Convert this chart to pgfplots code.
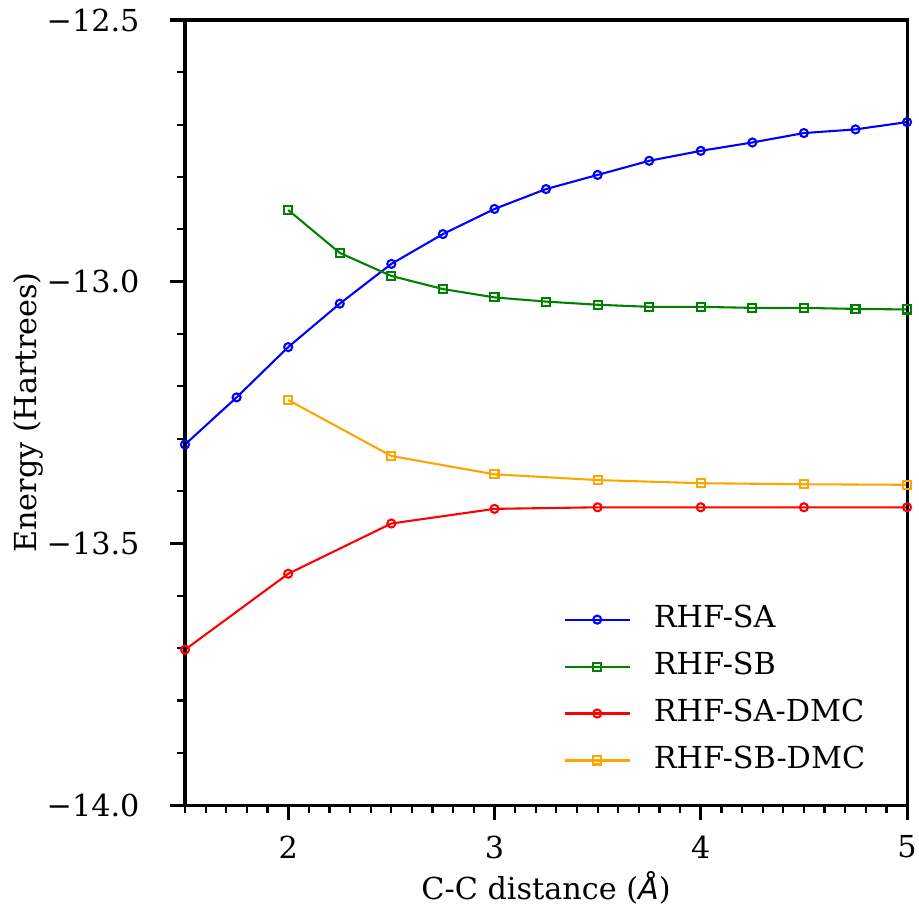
\documentclass[border=0pt]{standalone}
\usepackage{pgfplots}
\pgfplotsset{compat=1.18}
\usepackage{fontspec}
\setmainfont{DejaVu Serif}
\newfontfamily\dvsans{DejaVu Sans}
\definecolor{mplblue}{RGB}{0,0,255}
\definecolor{mplgreen}{RGB}{0,128,0}
\definecolor{mplred}{RGB}{255,0,0}
\definecolor{mplorange}{RGB}{255,165,0}
\begin{document}
\fontsize{10.9pt}{13pt}\selectfont
\begin{tikzpicture}
\begin{axis}[
  scale only axis,
  width=259.9pt, height=282.6pt,
  xmin=1.5, xmax=5, ymin=-14, ymax=-12.5,
  axis on top,
  axis line style={line width=1.1pt},
  tick pos=left,
  tick align=outside,
  major tick length=5.4pt,
  minor tick length=2.9pt,
  every major tick/.style={line width=1.1pt, black},
  every minor tick/.style={line width=0.8pt, black},
  xtick={2,3,4,5},
  xticklabels={2,3,4,5},
  minor xtick={1.5,1.6,1.7,1.8,1.9,2.1,2.2,2.3,2.4,2.5,2.6,2.7,2.8,2.9,3.1,3.2,3.3,3.4,3.5,3.6,3.7,3.8,3.9,4.1,4.2,4.3,4.4,4.5,4.6,4.7,4.8,4.9},
  ytick={-14,-13.5,-13,-12.5},
  yticklabels={−14.0,−13.5,−13.0,−12.5},
  minor ytick={-13.9,-13.8,-13.7,-13.6,-13.4,-13.3,-13.2,-13.1,-12.9,-12.8,-12.7,-12.6},
  xticklabel style={font=\fontsize{10.9pt}{13pt}\selectfont, anchor=north, inner sep=0pt, yshift=-5.4pt},
  yticklabel style={font=\fontsize{10.9pt}{13pt}\selectfont, anchor=east, inner sep=0pt, xshift=-10.8pt},
  xlabel={C-C distance ({\dvsans\itshape Å})},
  ylabel={Energy (Hartrees)},
  every axis x label/.style={at={(axis description cs:0.5,0)}, anchor=base, inner sep=0pt, yshift=-33.8pt, font=\fontsize{10.9pt}{13pt}\selectfont},
  every axis y label/.style={at={(axis description cs:-0.2051,0.5)}, rotate=90, anchor=base, inner sep=0pt, font=\fontsize{10.9pt}{13pt}\selectfont},
  legend cell align=left,
  legend style={draw=none, fill=none, inner sep=0pt, at={(axis description cs:0.5237,0.2550)}, anchor=north west,
    font=\fontsize{10.9pt}{13pt}\selectfont, row sep=6.7pt,
    nodes={inner sep=0pt, text height=8pt, text depth=2.2pt},
    /tikz/every odd column/.append style={column sep=8.3pt}},
  legend image code/.code={\draw[#1, line width=0.75pt, mark repeat=2, mark phase=2] plot coordinates {(0pt,0pt) (11.7pt,0pt) (23.4pt,0pt)};},
  every axis plot/.append style={line width=0.75pt, mark size=1.45pt, mark options={solid, fill=none}},
]
\addplot[color=mplblue, mark=o] coordinates {
(1.5,-13.311) (1.75,-13.221) (2.0,-13.125) (2.25,-13.042) (2.5,-12.966) (2.75,-12.909) (3.0,-12.861) (3.25,-12.823) (3.5,-12.796) (3.75,-12.769) (4.0,-12.750) (4.25,-12.734) (4.5,-12.716) (4.75,-12.709) (5.0,-12.695)};
\addlegendentry{RHF-SA}
\addplot[color=mplgreen, mark=square] coordinates {
(2.0,-12.863) (2.25,-12.945) (2.5,-12.989) (2.75,-13.014) (3.0,-13.030) (3.25,-13.038) (3.5,-13.044) (3.75,-13.048) (4.0,-13.048) (4.25,-13.050) (4.5,-13.050) (4.75,-13.052) (5.0,-13.053)};
\addlegendentry{RHF-SB}
\addplot[color=mplred, mark=o] coordinates {
(1.5,-13.703) (2.0,-13.558) (2.5,-13.462) (3.0,-13.434) (3.5,-13.431) (4.0,-13.431) (4.5,-13.431) (5.0,-13.431)};
\addlegendentry{RHF-SA-DMC}
\addplot[color=mplorange, mark=square] coordinates {
(2.0,-13.226) (2.5,-13.333) (3.0,-13.368) (3.5,-13.379) (4.0,-13.385) (4.5,-13.387) (5.0,-13.388)};
\addlegendentry{RHF-SB-DMC}
\end{axis}
\pgfresetboundingbox
\path (-66.6pt,-39.6pt) rectangle (264.2pt,289.8pt);
\end{tikzpicture}
\end{document}
